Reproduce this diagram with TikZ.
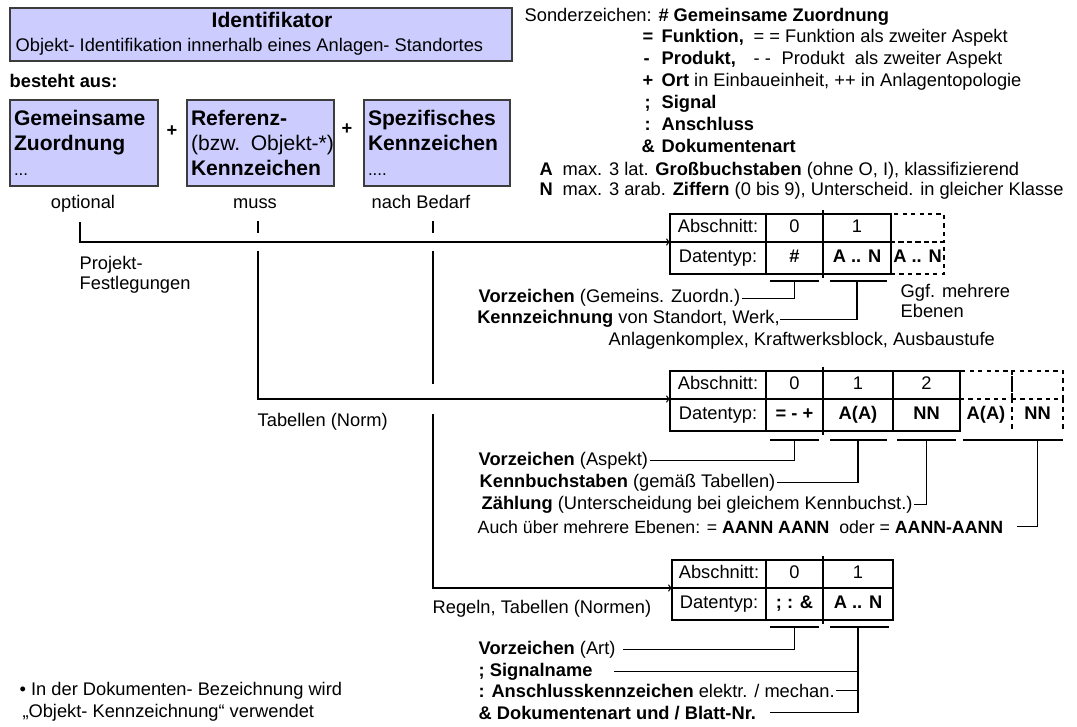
\documentclass[tikz,border=0pt]{standalone}
\usepackage{fontspec}
\setmainfont{Liberation Sans}
\definecolor{boxfill}{RGB}{204,204,255}
\definecolor{boxline}{RGB}{60,60,60}

\begin{document}
\begin{tikzpicture}
[
	x=0.025cm,y=-0.025cm,
	box/.style={rectangle,draw=boxline,fill=boxfill,line width=1.2,anchor=north west,inner xsep=0.1cm,inner ysep=0,outer sep=0,minimum height=2.15cm,align=left,font=\fontsize{15}{18}\selectfont},
	txt/.style={inner sep=1pt,anchor=base west,font=\fontsize{13}{14}\selectfont},
	cell/.style={rectangle,draw,line width=0.9,anchor=north west,inner sep=0,outer sep=0,minimum height=0.7cm,text height=9pt,text depth=2pt,font=\fontsize{13}{14}\selectfont},
	val/.style={cell,minimum height=0.8cm,font=\fontsize{13}{14}\selectfont\bfseries},
	ln/.style={line width=0.9}
]
\useasboundingbox (0,0) rectangle (1077,727);

% Kopf
\node[box,minimum width=12.55cm,minimum height=1.325cm] (id) at (10,8) {};
\node[anchor=base,font=\fontsize{15}{18}\selectfont\bfseries] (idt) at (272,28) {Identifikator};
\node[txt] (ids) at (14,52) {Objekt- Identifikation innerhalb eines Anlagen- Standortes};
\node[txt,font=\fontsize{13}{14}\selectfont\bfseries] (ba) at (8,88) {besteht aus:};

% Bestandteile
\node[box,text width=3.5cm] (gz) at (10,100) {\textbf{Gemeinsame}\\\textbf{Zuordnung}\\{\fontsize{12}{14}\selectfont ...}};
\node[box,text width=3.475cm] (rk) at (187,100) {\textbf{Referenz-}\\\mbox{(bzw. Objekt-*)}\\\textbf{Kennzeichen}};
\node[box,text width=3.45cm] (sk) at (364,100) {\textbf{Spezifisches}\\\textbf{Kennzeichen}\\{\fontsize{12}{14}\selectfont ....}};
\node[txt,anchor=base,font=\fontsize{13}{14}\selectfont\bfseries] (p1) at (172,137) {+};
\node[txt,anchor=base,font=\fontsize{13}{14}\selectfont\bfseries] (p2) at (347,135) {+};

\node[txt,anchor=base] (opt) at (83,209) {optional};
\node[txt,anchor=base] (mu) at (255,209) {muss};
\node[txt,anchor=base] (nb) at (421,209) {nach Bedarf};

% Sonderzeichen
\node[txt] (sz) at (523,22) {Sonderzeichen: \textbf{\# Gemeinsame Zuordnung}};
\node[txt] (s1) at (641,43) {\textbf{=}};
\node[txt] (f1) at (660,43) {\textbf{Funktion,}};
\node[txt] (f2) at (752,43) {= = Funktion als zweiter Aspekt};
\node[txt] (s2) at (642,65) {\textbf{-}};
\node[txt] (pr1) at (660,65) {\textbf{Produkt,}};
\node[txt] (pr2) at (752,65) {- -};
\node[txt] (pr3) at (780,65) {Produkt\ \ als zweiter Aspekt};
\node[txt] (s3) at (641,87) {\textbf{+}};
\node[txt] (ort) at (660,87) {\textbf{Ort} in Einbaueinheit, ++ in Anlagentopologie};
\node[txt] (s4) at (643,109) {\textbf{;}};
\node[txt] (sig) at (660,109) {\textbf{Signal}};
\node[txt] (s5) at (643,131) {\textbf{:}};
\node[txt] (ans) at (660,131) {\textbf{Anschluss}};
\node[txt] (s6) at (640,153) {\textbf{\&}};
\node[txt] (dok) at (660,153) {\textbf{Dokumentenart}};
\node[txt] (ka) at (538,176) {\textbf{A}};
\node[txt] (ta) at (561,176) {max. 3 lat. \textbf{Großbuchstaben} (ohne O, I), klassifizierend};
\node[txt] (kn) at (538,196) {\textbf{N}};
\node[txt] (tz) at (561,196) {max. 3 arab. \textbf{Ziffern} (0 bis 9), Unterscheid. in gleicher Klasse};

% Tabelle 1
\node[cell,dashed,minimum width=1.325cm] (t1a3) at (891,214) {};
\node[val,dashed,minimum width=1.325cm] (t1b3) at (891,242) {A .. N};
\node[cell,minimum width=2.4cm] (t1a0) at (670,214) {Abschnitt:};
\node[cell,minimum width=1.425cm] (t1a1) at (766,214) {0};
\node[cell,minimum width=1.7cm] (t1a2) at (823,214) {1};
\node[val,minimum width=2.4cm] (t1b0) at (670,242) {\mdseries Datentyp:};
\node[val,minimum width=1.425cm] (t1b1) at (766,242) {\#};
\node[val,minimum width=1.7cm] (t1b2) at (823,242) {A .. N};
\draw[ln] ([yshift=0.1cm]t1a1.north east) -- ([yshift=-0.1cm]t1b1.south east);

% Tabelle 2
\node[cell,dashed,minimum width=1.3cm] (t2a4) at (960,371) {};
\node[cell,dashed,minimum width=1.275cm] (t2a5) at (1012,371) {};
\node[val,draw=none,minimum width=1.3cm] (t2b4) at (960,399) {A(A)};
\node[val,draw=none,minimum width=1.275cm] (t2b5) at (1012,399) {NN};
\draw[ln,dashed] (t2b4.north east) -- (t2b4.south east);
\draw[ln,dashed] (t2b5.north east) -- (t2b5.south east);
\node[cell,minimum width=2.4cm] (t2a0) at (670,371) {Abschnitt:};
\node[cell,minimum width=1.425cm] (t2a1) at (766,371) {0};
\node[cell,minimum width=1.75cm] (t2a2) at (823,371) {1};
\node[cell,minimum width=1.675cm] (t2a3) at (893,371) {2};
\node[val,minimum width=2.4cm] (t2b0) at (670,399) {\mdseries Datentyp:};
\node[val,minimum width=1.425cm] (t2b1) at (766,399) {= - +};
\node[val,minimum width=1.75cm] (t2b2) at (823,399) {A(A)};
\node[val,minimum width=1.675cm] (t2b3) at (893,399) {NN};
\draw[ln] ([yshift=0.1cm]t2a1.north east) -- ([yshift=-0.1cm]t2b1.south east);

% Tabelle 3
\node[cell,minimum width=2.35cm] (t3a0) at (672,560) {Abschnitt:};
\node[cell,minimum width=1.425cm] (t3a1) at (766,560) {0};
\node[cell,minimum width=1.75cm] (t3a2) at (823,560) {1};
\node[val,minimum width=2.35cm] (t3b0) at (672,588) {\mdseries Datentyp:};
\node[val,minimum width=1.425cm] (t3b1) at (766,588) {; : \&};
\node[val,minimum width=1.75cm] (t3b2) at (823,588) {A .. N};
\draw[ln] ([yshift=0.1cm]t3a1.north east) -- ([yshift=-0.1cm]t3b1.south east);

% Hauptlinien
\coordinate (o1) at (80,222);
\coordinate (m1) at (258,221);
\coordinate (m2) at (258,233);
\coordinate (m3) at (258,251);
\coordinate (b1) at (433,221);
\coordinate (b2) at (433,233);
\coordinate (b3) at (433,251);
\coordinate (b4) at (433,384);
\coordinate (b5) at (433,414);

\draw[ln,->] (o1) |- (t1a0.south west);
\draw[ln] (m1) -- (m2);
\draw[ln,->] (m3) |- (t2a0.south west);
\draw[ln] (b1) -- (b2);
\draw[ln] (b3) -- (b4);
\draw[ln,->] (b5) |- (t3a0.south west);

\node[txt,anchor=north west,align=left] (pf) at (78,255) {Projekt-\\Festlegungen};
\node[txt] (tn) at (256,426) {Tabellen (Norm)};
\node[txt] (rt) at (431,613) {Regeln, Tabellen (Normen)};

% Erlaeuterungen Tabelle 1
\node[txt] (vz1) at (477,303) {\textbf{Vorzeichen} (Gemeins. Zuordn.)};
\node[txt,inner xsep=0pt] (kz1) at (477,324) {\textbf{Kennzeichnung} von Standort, Werk,};
\node[txt] (ak1) at (607,346) {Anlagenkomplex, Kraftwerksblock, Ausbaustufe};
\node[txt,anchor=north west,align=left] (gm) at (899,283) {Ggf. mehrere\\Ebenen};

\draw[ln] ([xshift=0.1cm,yshift=-0.175cm]t1b1.south west) -- ([xshift=-0.1cm,yshift=-0.175cm]t1b1.south east);
\draw[ln] ([yshift=-0.175cm]t1b1.south) |- (vz1.east);
\draw[ln] ([xshift=0.175cm,yshift=-0.175cm]t1b2.south west) -- ([xshift=-0.1cm,yshift=-0.175cm]t1b2.south east);
\draw[ln] ([yshift=-0.175cm]t1b2.south) |- (kz1.east);

% Erlaeuterungen Tabelle 2
\node[txt] (vz2) at (477,465) {\textbf{Vorzeichen} (Aspekt)};
\node[txt] (kb2) at (478,487) {\textbf{Kennbuchstaben} (gemäß Tabellen)};
\node[txt] (zl2) at (480,509) {\textbf{Zählung} (Unterscheidung bei gleichem Kennbuchst.)};
\node[txt,font=\fontsize{12.6}{14}\selectfont] (au2) at (476,533) {Auch über mehrere Ebenen: = \textbf{AANN AANN}\ \ oder = \textbf{AANN-AANN}};

\draw[ln] ([xshift=0.1cm,yshift=-0.225cm]t2b1.south west) -- ([xshift=-0.1cm,yshift=-0.225cm]t2b1.south east);
\draw[ln] ([yshift=-0.225cm]t2b1.south) |- (vz2.east);
\draw[ln] ([xshift=0.175cm,yshift=-0.225cm]t2b2.south west) -- ([xshift=-0.15cm,yshift=-0.225cm]t2b2.south east);
\draw[ln] ([yshift=-0.225cm]t2b2.south) |- (kb2.east);
\draw[ln] ([xshift=0.1cm,yshift=-0.225cm]t2b3.south west) -- ([xshift=-0.1cm,yshift=-0.225cm]t2b3.south east);
\draw[ln] ([yshift=-0.225cm]t2b3.south) |- (zl2.east);
\draw[ln] ([xshift=0.075cm,yshift=-0.225cm]t2b4.south west) -- ([yshift=-0.225cm]t2b5.south east);
\draw[ln] ([yshift=-0.225cm]t2b5.south) |- ([xshift=0.3cm]au2.east);

% Erlaeuterungen Tabelle 3
\node[txt] (vz3) at (477,654) {\textbf{Vorzeichen} (Art)};
\node[txt] (sg3) at (477,676) {\textbf{; Signalname}};
\node[txt] (an3) at (477,697) {\textbf{: Anschlusskennzeichen} elektr. / mechan.};
\node[txt] (dk3) at (477,719) {\textbf{\& Dokumentenart und / Blatt-Nr.}};

\draw[ln] ([xshift=0.1cm,yshift=-0.175cm]t3b1.south west) -- ([xshift=-0.1cm,yshift=-0.175cm]t3b1.south east);
\draw[ln] ([yshift=-0.175cm]t3b1.south) |- ([xshift=0.15cm]vz3.east);
\draw[ln] ([xshift=0.175cm,yshift=-0.175cm]t3b2.south west) -- ([xshift=-0.1cm,yshift=-0.175cm]t3b2.south east);
\draw[ln] ([yshift=-0.175cm]t3b2.south) |- ([xshift=0.3cm]dk3.east);
\draw[ln] ([xshift=0.5cm]sg3.east) -- (sg3.east -| t3b2.south);
\draw[ln] (an3.east) -- (an3.east -| t3b2.south);

% Hinweis
\node[txt,anchor=north west,align=left,font=\fontsize{13}{15.6}\selectfont] (hw) at (18,681) {• In der Dokumenten- Bezeichnung wird\\\hspace{2pt}„Objekt- Kennzeichnung“ verwendet};

\end{tikzpicture}
\end{document}
